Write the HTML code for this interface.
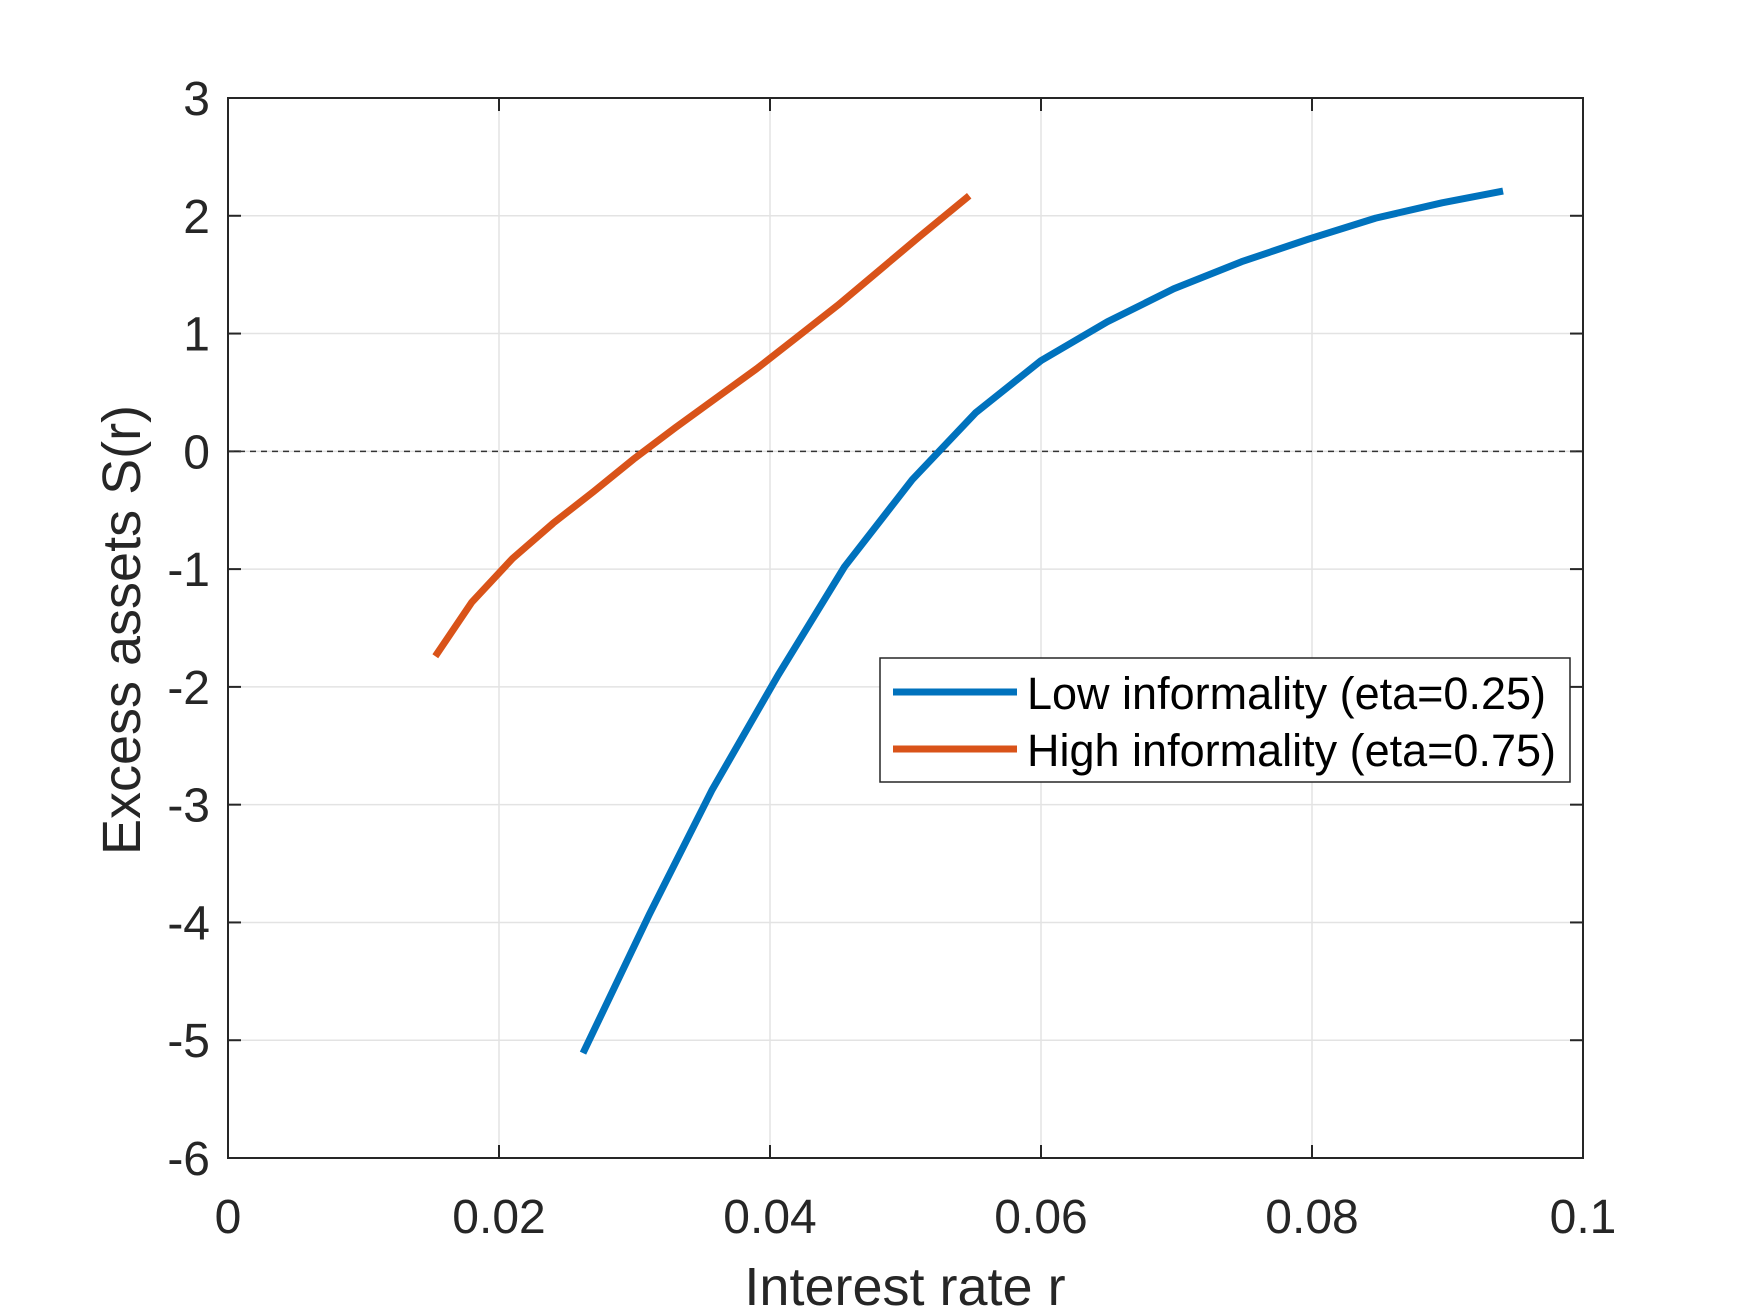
<!DOCTYPE html>
<html><head><meta charset="utf-8"><style>body{margin:0;background:#fff}svg{display:block}</style></head>
<body>
<svg id="chart" width="1750" height="1313" xmlns="http://www.w3.org/2000/svg" font-family="Liberation Sans, Arial, sans-serif">
<rect width="1750" height="1313" fill="#fff"/>
<g id="grid"></g>
<g id="axes"></g>
<g id="series"></g>
<text x="905" y="1305" font-size="54" text-anchor="middle" fill="#262626">Interest rate r</text>
<text transform="translate(140,630) rotate(-90)" font-size="54" text-anchor="middle" fill="#262626">Excess assets S(r)</text>
<g>
<rect x="880" y="658" width="690" height="124" fill="#fff" stroke="#262626" stroke-width="1.5"/>
<line x1="893" y1="692" x2="1017" y2="692" stroke="#0072BD" stroke-width="7"/>
<text x="1027" y="709" font-size="45" fill="#000">Low informality (eta=0.25)</text>
<line x1="893" y1="749" x2="1017" y2="749" stroke="#D95319" stroke-width="7"/>
<text x="1027" y="766" font-size="45" fill="#000">High informality (eta=0.75)</text>
</g>
</svg>
<script>
const xTicks=[0,0.02,0.04,0.06,0.08,0.1];
const xTickLabels=["0","0.02","0.04","0.06","0.08","0.1"];
const yTicks=[3,2,1,0,-1,-2,-3,-4,-5,-6];
const yTickLabels=["3","2","1","0","-1","-2","-3","-4","-5","-6"];
const lowR=[0.0262,0.0311,0.0357,0.0406,0.0455,0.0505,0.0552,0.0600,0.0649,0.0698,0.0748,0.0797,0.0847,0.0896,0.0941];
const lowS=[-5.11,-3.93,-2.88,-1.90,-0.98,-0.24,0.33,0.77,1.10,1.38,1.61,1.80,1.98,2.11,2.21];
const highR=[0.0153,0.0180,0.0210,0.0240,0.0270,0.0300,0.0330,0.0360,0.0390,0.0420,0.0450,0.0480,0.0510,0.0547];
const highS=[-1.74,-1.28,-0.91,-0.61,-0.34,-0.06,0.20,0.45,0.70,0.97,1.24,1.53,1.82,2.17];
const L=228,R=1583,T=98,B=1158;
const X=v=>L+(v-0)/(0.1-0)*(R-L);
const Y=v=>T+(3-v)/(3-(-6))*(B-T);
const NS='http://www.w3.org/2000/svg';
function mk(tag,attrs,parent){const e=document.createElementNS(NS,tag);for(const k in attrs)e.setAttribute(k,attrs[k]);parent.appendChild(e);return e;}
const grid=document.getElementById('grid'),axes=document.getElementById('axes'),series=document.getElementById('series');
xTicks.forEach((t,i)=>{
 const g=mk('line',{x1:X(t),x2:X(t),y1:T,y2:B,stroke:'#e3e3e3','stroke-width':1.5},grid);
 
 
 const a=mk('line',{x1:X(t),x2:X(t),y1:B,y2:B-13,stroke:'#262626','stroke-width':2},axes);
 
 
 const b=mk('line',{x1:X(t),x2:X(t),y1:T,y2:T+13,stroke:'#262626','stroke-width':2},axes);
 
 
 const tx=mk('text',{x:X(t),y:1233,'font-size':48,'text-anchor':'middle',fill:'#262626'},axes);
 tx.textContent=xTickLabels[i];
 
 
});
yTicks.forEach((t,i)=>{
 const g=mk('line',{x1:L,x2:R,y1:Y(t),y2:Y(t),stroke:'#e3e3e3','stroke-width':1.5},grid);
 
 
 const a=mk('line',{x1:L,x2:L+13,y1:Y(t),y2:Y(t),stroke:'#262626','stroke-width':2},axes);
 
 
 const b=mk('line',{x1:R,x2:R-13,y1:Y(t),y2:Y(t),stroke:'#262626','stroke-width':2},axes);
 
 
 const tx=mk('text',{x:210,y:Y(t)+17,'font-size':48,'text-anchor':'end',fill:'#262626'},axes);
 tx.textContent=yTickLabels[i];
 
 
});
const zl=mk('line',{x1:L,x2:R,y1:Y(0),y2:Y(0),stroke:'#333','stroke-width':1.5,'stroke-dasharray':'6 5'},axes);


const box=mk('rect',{x:L,y:T,width:R-L,height:B-T,fill:'none',stroke:'#262626','stroke-width':2},axes);


function line(rs,ss,color,name){
 const p=mk('polyline',{points:rs.map((r,i)=>X(r)+','+Y(ss[i])).join(' '),fill:'none',stroke:color,'stroke-width':7,'stroke-linejoin':'round'},series);
 
 
}
line(lowR,lowS,'#0072BD','low-informality-line');
line(highR,highS,'#D95319','high-informality-line');
</script>
</body></html>
